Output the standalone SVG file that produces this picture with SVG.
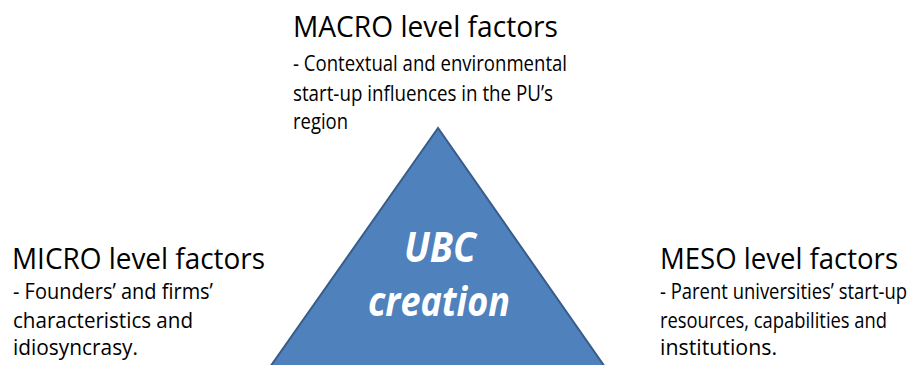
<svg xmlns="http://www.w3.org/2000/svg" width="911" height="365" viewBox="0 0 911 365">
  <style>
    .title { font-family: "Open Sans", "Noto Sans", sans-serif; font-size: 30px; fill: #000; }
    .body { font-family: "Open Sans", "Noto Sans", sans-serif; font-size: 21.5px; fill: #000; }
    .core { font-family: "Open Sans", "Noto Sans", sans-serif; font-size: 41px; font-weight: bold; font-style: italic; fill: #fff; text-anchor: middle; }
    .tri { fill: #4F81BD; stroke: #385D8A; stroke-width: 2; stroke-linejoin: miter; }
  </style>
  <rect width="911" height="365" fill="#fff"/>

  <!-- central triangle with its label -->
  <g id="ubc-creation">
    <polygon class="tri" points="438,128 270,367 605,367"/>
    <text class="core" x="440" y="262" textLength="72" lengthAdjust="spacingAndGlyphs">UBC</text>
    <text class="core" x="439" y="316" textLength="142" lengthAdjust="spacingAndGlyphs">creation</text>
  </g>

  <g id="macro">
    <text class="title" x="293" y="37" textLength="265" lengthAdjust="spacingAndGlyphs">MACRO level factors</text>
    <text class="body" x="293" y="71" textLength="274" lengthAdjust="spacingAndGlyphs">- Contextual and environmental</text>
    <text class="body" x="293" y="101" textLength="260" lengthAdjust="spacingAndGlyphs">start-up influences in the PU’s</text>
    <text class="body" x="293" y="129" textLength="55" lengthAdjust="spacingAndGlyphs">region</text>
  </g>

  <g id="micro">
    <text class="title" x="12" y="269" textLength="253" lengthAdjust="spacingAndGlyphs">MICRO level factors</text>
    <text class="body" x="13" y="299" textLength="200" lengthAdjust="spacingAndGlyphs">- Founders’ and firms’</text>
    <text class="body" x="13" y="328" textLength="180" lengthAdjust="spacingAndGlyphs">characteristics and</text>
    <text class="body" x="13" y="355" textLength="125" lengthAdjust="spacingAndGlyphs">idiosyncrasy.</text>
  </g>

  <!-- narrowed horizontally so the block stays inside the right edge -->
  <g id="meso">
    <text class="title" transform="translate(660 269) scale(0.92 1)" textLength="258.7" lengthAdjust="spacingAndGlyphs">MESO level factors</text>
    <text class="body" transform="translate(660 299) scale(0.86 1)" textLength="287.2" lengthAdjust="spacingAndGlyphs">- Parent universities’ start-up</text>
    <text class="body" transform="translate(660 328) scale(0.86 1)" textLength="264" lengthAdjust="spacingAndGlyphs">resources, capabilities and</text>
    <text class="body" x="660" y="355" textLength="117" lengthAdjust="spacingAndGlyphs">institutions.</text>
  </g>
</svg>
